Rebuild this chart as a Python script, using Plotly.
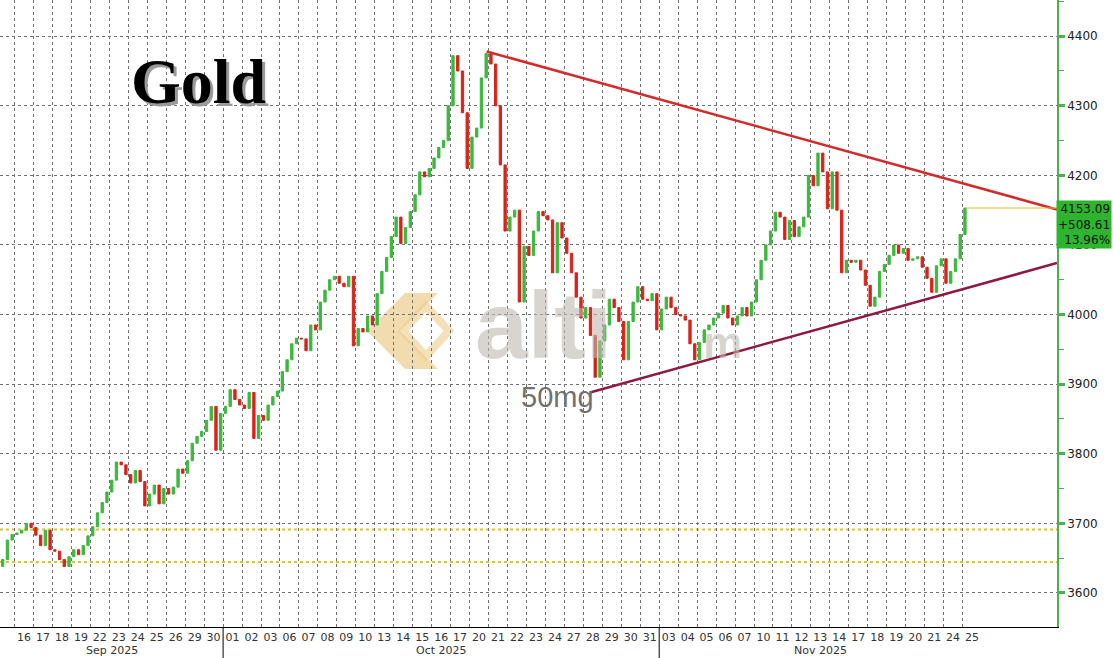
import numpy as np
import plotly.graph_objects as go

# trading sessions shown on the axis
SEP_DAYS = ["15", "16", "17", "18", "19", "22", "23", "24", "25", "26", "29", "30"]
OCT_DAYS = ["01", "02", "03", "06", "07", "08", "09", "10", "13", "14", "15", "16",
            "17", "20", "21", "22", "23", "24", "27", "28", "29", "30", "31"]
NOV_DAYS = ["03", "04", "05", "06", "07", "10", "11", "12", "13", "14", "17", "18",
            "19", "20", "21", "24", "25"]

# four closes per session (Sep 15 is cut by the left edge)
SEP_CLOSES = [
    [3638, 3648, 3676, 3684], [3686, 3690, 3700, 3694], [3683, 3668, 3690, 3662],
    [3660, 3648, 3638, 3652], [3662, 3655, 3668, 3682], [3695, 3715, 3730, 3745],
    [3762, 3788, 3784, 3770], [3758, 3776, 3760, 3725], [3742, 3755, 3728, 3750],
    [3742, 3752, 3778, 3772], [3790, 3815, 3825, 3832], [3848, 3868, 3805, 3858],
]
OCT_CLOSES = [
    [3868, 3892, 3878, 3870], [3865, 3888, 3822, 3855], [3848, 3870, 3882, 3890],
    [3918, 3935, 3958, 3966], [3965, 3948, 3985, 3978], [4018, 4035, 4050, 4055],
    [4045, 4040, 4055, 3955], [3980, 3975, 3998, 3985], [4030, 4062, 4082, 4112],
    [4140, 4102, 4125, 4148], [4172, 4205, 4198, 4210], [4225, 4240, 4250, 4300],
    [4372, 4350, 4290, 4210], [4255, 4268, 4340, 4375], [4360, 4300, 4215, 4120],
    [4140, 4150, 4018, 4098], [4085, 4120, 4148, 4142], [4136, 4060, 4132, 4110],
    [4088, 4060, 4025, 3995], [4010, 3970, 3910, 3962], [3985, 4022, 4010, 3990],
    [3935, 3990, 4018, 4040], [4022, 4020, 4030, 3978],
]
NOV_CLOSES = [
    [4008, 4025, 4010, 4000], [3998, 3992, 3958, 3935], [3960, 3978, 3985, 3995],
    [4002, 4013, 3995, 3985], [3998, 4010, 3998, 4018], [4050, 4078, 4100, 4120],
    [4147, 4140, 4108, 4135], [4112, 4126, 4140, 4200], [4185, 4232, 4205, 4152],
    [4205, 4150, 4060, 4078], [4075, 4078, 4064, 4042], [4012, 4025, 4062, 4072],
    [4085, 4100, 4088, 4095], [4078, 4080, 4083, 4068], [4052, 4032, 4070, 4080],
    [4045, 4062, 4080, 4115], [4153.09],
]

BASE_LEVEL = 3644.48
UPPER_LEVEL = 3691
LAST = 4153.09
CHANGE = 508.61
CHANGE_PCT = 13.96

UPPER_TREND_X = [24.4, 54.48]
UPPER_TREND_Y = [4378, 4151]
LOWER_TREND_X = [29.85, 54.48]
LOWER_TREND_Y = [3888, 4074]

GREEN = "#3cb83c"
RED = "#d8231a"
AXIS_GREEN = "#4caf50"
GRID = "#707070"

W, H = 1057, 627  # plot area in pixels


def px_x(p):
    return p / W


def px_y(p):
    return 1 - p / H


# build candle series (session index: Sep 16 = 0)
days = SEP_DAYS + OCT_DAYS + NOV_DAYS
sessions = SEP_CLOSES + OCT_CLOSES + NOV_CLOSES
offsets = [-0.375, -0.125, 0.125, 0.375]
xs, closes = [], []
for i, vals in enumerate(sessions):
    for k, v in enumerate(vals):
        xs.append(i - 1 + offsets[k])
        closes.append(v)
closes = np.array(closes, dtype=float)
opens = np.concatenate([[closes[0]], closes[:-1]])
highs = np.maximum(opens, closes)
lows = np.minimum(opens, closes)

day_idx = np.arange(len(days)) - 1
n_sep, n_oct, n_nov = len(SEP_DAYS), len(OCT_DAYS), len(NOV_DAYS)

fig = go.Figure()
fig.add_trace(go.Candlestick(
    x=xs, open=opens, high=highs, low=lows, close=closes,
    increasing=dict(line=dict(color=GREEN, width=1), fillcolor=GREEN),
    decreasing=dict(line=dict(color=RED, width=1), fillcolor=RED),
    whiskerwidth=0, hoverinfo="skip",
))

X0, X1 = -1.266, 54.48

# reference levels
for lvl in (UPPER_LEVEL, BASE_LEVEL):
    fig.add_shape(type="line", xref="x", yref="y", x0=X0, x1=X1, y0=lvl, y1=lvl,
                  line=dict(color="#d9c437", width=2, dash="dot"), layer="below")
fig.add_shape(type="line", xref="x", yref="y", x0=xs[-1], x1=X1, y0=LAST, y1=LAST,
              line=dict(color="#e8b830", width=1))

# trend lines
fig.add_trace(go.Scatter(x=UPPER_TREND_X, y=UPPER_TREND_Y, mode="lines",
                         line=dict(color="#d42a2a", width=2.5), hoverinfo="skip"))
fig.add_trace(go.Scatter(x=LOWER_TREND_X, y=LOWER_TREND_Y, mode="lines",
                         line=dict(color="#8e1b3f", width=2.5), hoverinfo="skip"))

# month separators and labels
for b in (day_idx[n_sep - 1] + 0.5, day_idx[n_sep + n_oct - 1] + 0.5):
    fig.add_shape(type="line", xref="x", yref="paper", x0=b, x1=b, y0=0, y1=-0.06,
                  line=dict(color="black", width=1))
month_spans = [("Sep 2025", X0, day_idx[n_sep - 1] + 0.5),
               ("Oct 2025", day_idx[n_sep] - 0.5, day_idx[n_sep + n_oct - 1] + 0.5),
               ("Nov 2025", day_idx[n_sep + n_oct] - 0.5, day_idx[-1] + 0.5)]
for name, a, b in month_spans:
    fig.add_annotation(text=name, x=(a + b) / 2, xref="x", y=-0.037, yref="paper",
                       showarrow=False, xanchor="center", yanchor="middle",
                       font=dict(family="DejaVu Sans", size=11, color="#333"))

# title with shadow
for col, dx, dy in (("#9a9a9a", 3, -3), ("black", 0, 0)):
    fig.add_annotation(text="<b>Gold</b>", xref="paper", yref="paper",
                       x=px_x(198), y=px_y(82), showarrow=False,
                       xanchor="center", yanchor="middle", xshift=dx, yshift=dy,
                       font=dict(family="Liberation Serif", size=64, color=col))

# watermark
fig.add_shape(type="path", xref="paper", yref="paper", layer="below",
              path="M {} {} L {} {} L {} {} L {} {} L {} {} L {} {} Z".format(
                  px_x(367), px_y(331), px_x(405), px_y(293), px_x(438), px_y(293),
                  px_x(400), px_y(331), px_x(438), px_y(369), px_x(405), px_y(369)),
              fillcolor="rgba(232,190,110,0.55)", line=dict(width=0))
fig.add_shape(type="path", xref="paper", yref="paper", layer="below",
              path="M {} {} L {} {} L {} {} L {} {} Z".format(
                  px_x(403), px_y(331), px_x(426), px_y(306),
                  px_x(449), px_y(331), px_x(426), px_y(356)),
              fillcolor="rgba(0,0,0,0)", line=dict(color="rgba(236,205,140,0.6)", width=8))
fig.add_annotation(text="<b>alti</b>", xref="paper", yref="paper", x=px_x(543),
                   y=px_y(325), showarrow=False, xanchor="center", yanchor="middle",
                   font=dict(family="Liberation Sans", size=95, color="rgba(190,184,175,0.6)"))
fig.add_annotation(text="<b>m</b>", xref="paper", yref="paper", x=px_x(722),
                   y=px_y(342), showarrow=False, xanchor="center", yanchor="middle",
                   font=dict(family="Liberation Sans", size=44, color="rgba(190,184,175,0.6)"))
fig.add_annotation(text="50mg", xref="paper", yref="paper", x=px_x(557),
                   y=px_y(397), showarrow=False, xanchor="center", yanchor="middle",
                   font=dict(family="Liberation Sans", size=29, color="#707070"))

# last price box
fig.add_shape(type="path", xref="paper", yref="paper",
              path="M {} {} L {} {} L {} {} Z".format(
                  px_x(1057), px_y(209), px_x(1064), px_y(201), px_x(1064), px_y(217)),
              fillcolor="#2db52d", line=dict(width=0))
fig.add_annotation(text=f"{LAST:.2f}<br>+{CHANGE:.2f}<br>{CHANGE_PCT:.2f}%",
                   xref="paper", yref="paper", x=px_x(1112), y=px_y(200),
                   xanchor="right", yanchor="top", align="right", showarrow=False,
                   bgcolor="#2db52d", borderpad=1,
                   font=dict(family="DejaVu Sans", size=12, color="#111"))

fig.update_layout(
    width=1113, height=658,
    margin=dict(l=0, r=56, t=0, b=31),
    paper_bgcolor="white", plot_bgcolor="white",
    showlegend=False,
    xaxis=dict(
        range=[X0, X1], tickmode="array",
        tickvals=list(day_idx[1:]), ticktext=days[1:],
        showgrid=False, zeroline=False, showline=True, linecolor="black", linewidth=1,
        ticks="", rangeslider=dict(visible=False),
        tickfont=dict(family="DejaVu Sans", size=11, color="#333"),
        minor=dict(tickmode="array", tickvals=list(day_idx[:-1] + 0.5), showgrid=True,
                   gridcolor=GRID, griddash="3px,3px", gridwidth=1, ticks=""),
    ),
    yaxis=dict(
        side="right", range=[3551, 4452], tick0=0, dtick=100,
        showgrid=True, gridcolor=GRID, griddash="3px,3px", gridwidth=1, zeroline=False,
        showline=True, linecolor=AXIS_GREEN, linewidth=1.5,
        ticks="outside", ticklen=6, tickwidth=3, tickcolor=AXIS_GREEN,
        minor=dict(tick0=50, dtick=100, ticks="outside", ticklen=5, tickwidth=1,
                   tickcolor=AXIS_GREEN, showgrid=False),
        tickfont=dict(family="DejaVu Sans", size=12, color="#222"),
    ),
)

fig.write_html("out.html", config={"displayModeBar": False},
               post_script="document.body.style.margin = '0';")
